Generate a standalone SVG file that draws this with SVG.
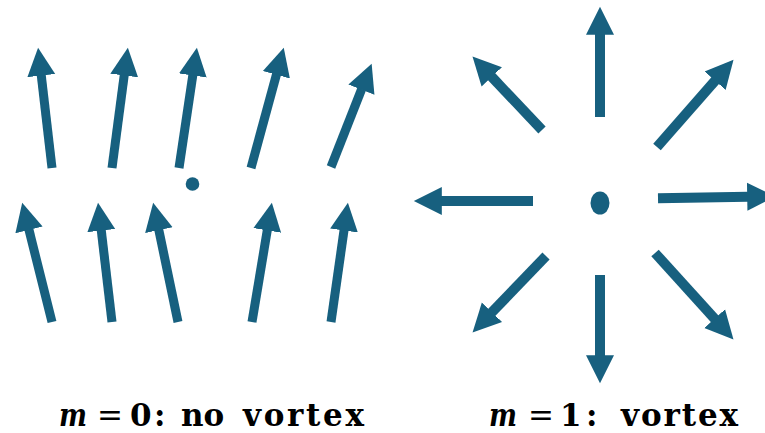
<svg xmlns="http://www.w3.org/2000/svg" width="765" height="433" viewBox="0 0 765 433">
  <style>
    .a { stroke: #17607f; fill: none; stroke-linecap: butt; marker-end: url(#head); }
    .l { stroke-width: 9; }
    .r { stroke-width: 10; }
    .dot { fill: #17607f; }
    text { font-family: "DejaVu Serif", "Liberation Serif", serif; font-size: 31px; fill: #000; }
    .b { font-weight: bold; }
    .bi { font-weight: bold; font-style: italic; }
  </style>
  <defs>
    <marker id="head" markerUnits="userSpaceOnUse" viewBox="0 -15 30 30" markerWidth="30" markerHeight="30" refX="0.8" refY="0" orient="auto">
      <path d="M0,-14 L28,0 L0,14 Z" fill="#17607f"/>
    </marker>
  </defs>
  <rect width="765" height="433" fill="#fff"/>

  <g id="connectors">
    <g id="no-vortex-top">
      <line class="a l" x1="52" y1="168" x2="41.2" y2="74.8"/>
      <line class="a l" x1="112" y1="168" x2="124.3" y2="74.7"/>
      <line class="a l" x1="179" y1="168" x2="192.9" y2="74.7"/>
      <line class="a l" x1="251" y1="168" x2="276.6" y2="74"/>
      <line class="a l" x1="331" y1="167" x2="361.7" y2="89"/>
    </g>
    <g id="no-vortex-bottom">
      <line class="a l" x1="52" y1="322" x2="28.8" y2="229.2"/>
      <line class="a l" x1="112" y1="322" x2="101.2" y2="229.8"/>
      <line class="a l" x1="178" y1="322" x2="158.7" y2="229.4"/>
      <line class="a l" x1="252" y1="322" x2="267.4" y2="229.6"/>
      <line class="a l" x1="331" y1="322" x2="344.1" y2="229.7"/>
    </g>
    <g id="vortex-arrows">
      <line class="a r" x1="600" y1="117" x2="600" y2="34"/>
      <line class="a r" x1="542" y1="130" x2="491.2" y2="76.3"/>
      <line class="a r" x1="657" y1="147" x2="715.6" y2="80.1"/>
      <line class="a r" x1="533" y1="201" x2="441" y2="201"/>
      <line class="a r" x1="658" y1="198.3" x2="748" y2="196.8"/>
      <line class="a r" x1="546" y1="256" x2="491.4" y2="312.8"/>
      <line class="a r" x1="600" y1="275" x2="600" y2="356"/>
      <line class="a r" x1="655" y1="253" x2="715.2" y2="319.3"/>
    </g>
  </g>

  <g id="core-left">
    <circle class="dot" cx="192.5" cy="184" r="6.8"/>
  </g>
  <g id="core-right">
    <ellipse class="dot" cx="600" cy="203" rx="9.5" ry="11.5"/>
  </g>

  <g id="label-left">
    <text x="59" y="426" class="bi" textLength="28" lengthAdjust="spacingAndGlyphs">m</text>
    <text x="97" y="426">=</text>
    <text x="130" y="426" class="b">0</text>
    <text x="154" y="426" class="b">:</text>
    <text x="181" y="426" class="b">no</text>
    <text x="243" y="426" class="b" textLength="121">vortex</text>
  </g>
  <g id="label-right">
    <text x="489" y="426" class="bi" textLength="28" lengthAdjust="spacingAndGlyphs">m</text>
    <text x="528" y="426">=</text>
    <text x="560" y="426" class="b">1</text>
    <text x="586" y="426" class="b">:</text>
    <text x="621" y="426" class="b" textLength="117">vortex</text>
  </g>
</svg>
